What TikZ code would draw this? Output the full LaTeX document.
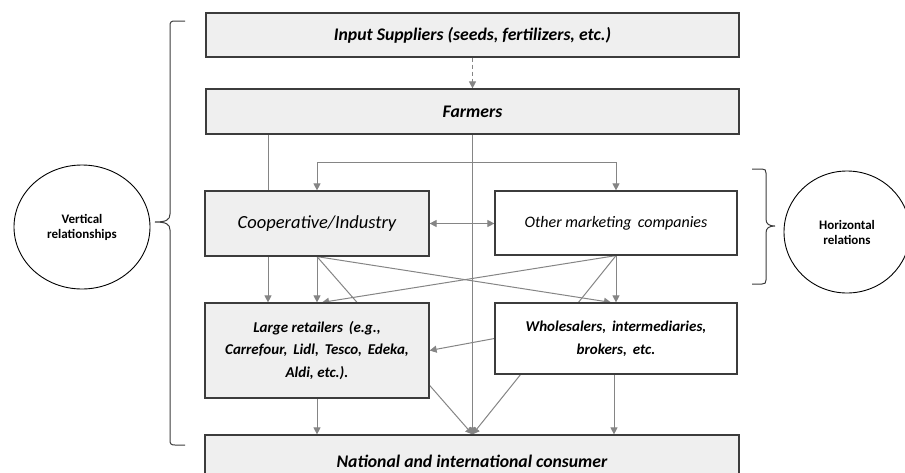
\documentclass[tikz,border=0pt]{standalone}
\usepackage{fontspec}
\setmainfont{Carlito}
\usetikzlibrary{arrows.meta,backgrounds,shapes.geometric,calc}
\definecolor{boxgray}{HTML}{EFEFEF}
\definecolor{bordergray}{HTML}{3C3C3C}
\definecolor{arrgray}{HTML}{858585}
\begin{document}
\begin{tikzpicture}[x=1pt,y=-1pt,
  box/.style={draw=bordergray,line width=1.2pt,fill=boxgray,inner sep=2pt,align=center},
  wbox/.style={box,fill=white},
  conn/.style={draw=arrgray,line width=1pt},
  arr/.style={conn,-{Triangle[length=7pt,width=7pt]}},
  darr/.style={conn,{Triangle[length=7pt,width=7pt]}-{Triangle[length=7pt,width=7pt]}},
  dasharr/.style={arr,dashed,dash pattern=on 4pt off 3pt},
  circ/.style={draw=black,line width=0.9pt,ellipse,inner sep=0pt,align=center,font=\fontsize{13}{15}\selectfont\bfseries},
  brace/.style={draw=bordergray,line width=1pt},
  tb/.style={font=\fontsize{17.7}{20}\selectfont\bfseries\itshape},
]
\useasboundingbox (0,0) rectangle (905,472);

% boxes
\node[box,tb,minimum width=533pt,minimum height=44pt] (input) at (472.5,35) {Input Suppliers (seeds, fertilizers, etc.)};
\node[box,tb,minimum width=533pt,minimum height=45pt] (farmers) at (472.5,111.5) {Farmers};
\node[box,minimum width=224pt,minimum height=65pt,font=\fontsize{18.5}{21}\selectfont\itshape] (coop) at (317,223.5) {Cooperative/Industry};
\node[wbox,minimum width=242pt,minimum height=64pt,font=\fontsize{16}{19}\selectfont\itshape] (other) at (616,223) {Other marketing\, companies};
\node[box,minimum width=224pt,minimum height=95pt,font=\fontsize{15}{22.5}\selectfont\bfseries\itshape] (retail) at (317,350.5) {Large retailers\, (e.g.,\\ Carrefour,\, Lidl,\, Tesco,\, Edeka,\\ Aldi, etc.).};
\node[wbox,minimum width=242pt,minimum height=71pt,font=\fontsize{15}{22.5}\selectfont\bfseries\itshape] (whole) at (616,338.5) {Wholesalers,\, intermediaries,\\ brokers,\, etc.};
\node[box,tb,minimum width=534pt,minimum height=52pt] (national) at (472,461) {National and international consumer};

% connectors (behind boxes)
\begin{scope}[on background layer]
  \draw[dasharr] (input.south) -- (farmers.north);
  \draw[conn] ([xshift=-49pt]coop.north |- farmers.south) -- ([xshift=-49pt]coop.north);
  \draw[arr] (farmers.south) -- (farmers.south |- national.north);
  \coordinate (br) at ($(farmers.south)+(0,28)$);
  \draw[arr] (br) -| (coop.north);
  \draw[arr] (br) -| (other.north);
  \draw[darr] (coop.east) -- (coop.east -| other.west);
  \draw[arr] ([xshift=-49pt]coop.south) -- ([xshift=-49pt]retail.north);
  \draw[arr] (coop.south) -- (retail.north);
  \draw[arr] (coop.south) -- ([xshift=-5pt]whole.north);
  \draw[arr] (coop.south) -- (farmers.south |- national.north);
  \draw[arr] (other.south) -- ([xshift=5pt]retail.north);
  \draw[arr] (other.south) -- (whole.north);
  \draw[arr] (other.south) -- (farmers.south |- national.north);
  \draw[arr] (whole.west) -- (retail.east);
  \draw[arr] (retail.south) -- (retail.south |- national.north);
  \draw[arr] ([xshift=-2pt]whole.south) -- ([xshift=-2pt]whole.south |- national.north);
\end{scope}

% circles
\node[circ,minimum width=136pt,minimum height=124pt] (vert) at (82,227) {Vertical\\relationships};
\node[circ,minimum width=126pt,minimum height=122pt] (horiz) at (847,232) {Horizontal\\relations};

% braces
\draw[brace] (185,21) -- (175,21) .. controls (171,21) and (170,22) .. (170,26) -- (170,214)
  .. controls (170,220) and (166,222) .. (155,222)
  .. controls (166,222) and (170,224) .. (170,230) -- (170,440)
  .. controls (170,444) and (171,445) .. (175,445) -- (185,445);
\draw[brace] (752,169) -- (762,169) .. controls (765,169) and (766,170) .. (766,173) -- (766,219)
  .. controls (766,224) and (769,226) .. (775,226)
  .. controls (769,226) and (766,228) .. (766,233) -- (766,280)
  .. controls (766,283) and (765,284) .. (762,284) -- (752,284);
\end{tikzpicture}
\end{document}
